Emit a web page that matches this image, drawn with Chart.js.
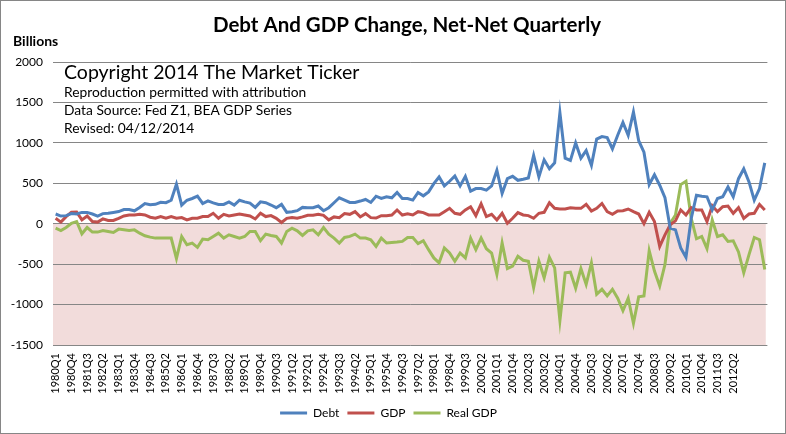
<!DOCTYPE html>
<html>
<head>
<meta charset="utf-8">
<title>Debt And GDP Change, Net-Net Quarterly</title>
<script src="https://cdn.jsdelivr.net/npm/chart.js@4.4.1/dist/chart.umd.min.js"></script>
<style>
  html, body { margin: 0; padding: 0; background: #fff; }
  #wrap { width: 786px; height: 434px; }
</style>
</head>
<body>
<div id="wrap"><canvas id="debtChart" width="786" height="434"></canvas></div>
<script>
// categories: 1980Q1 .. 2013Q4
const firstYear = 1980;
const lastYear = 2013;
const quarters = [];
for (let y = firstYear; y <= lastYear; y++) {
  for (let q = 1; q <= 4; q++) quarters.push(y + 'Q' + q);
}

// billions
const debt = [120,95,100,125,120,140,140,120,95,125,
  130,140,150,175,175,160,200,250,235,240,
  265,260,290,490,230,290,312,340,250,282,
  258,238,238,270,230,290,270,255,202,270,
  260,231,198,239,141,149,161,202,198,198,
  219,161,198,259,321,292,263,263,280,300,
  263,340,312,333,321,386,312,312,292,386,
  345,394,496,578,468,525,590,468,586,402,
  435,435,415,468,660,374,557,586,537,549,
  566,843,578,790,680,753,1374,811,782,999,
  811,905,721,1047,1078,1066,925,1094,1252,1094,
  1382,1027,884,484,606,476,321,-55,-76,-300,
  -415,67,353,341,333,170,312,333,455,333,
  557,680,517,292,435,752];

const gdp = [67,20,88,141,145,47,96,27,20,60,
  40,40,67,96,108,108,116,108,80,67,
  88,67,88,67,76,47,67,67,88,88,
  129,67,116,96,108,120,108,96,59,129,
  88,100,67,15,67,78,67,84,104,104,
  116,104,47,84,75,125,116,149,84,125,
  75,70,100,100,108,170,108,124,108,149,
  137,108,108,108,149,190,129,116,170,210,
  100,247,88,116,47,129,5,67,137,108,
  100,67,129,141,259,190,182,182,198,190,
  190,239,157,190,250,149,116,157,161,182,
  149,120,0,141,26,-280,-137,-14,35,170,
  108,198,170,170,26,222,149,210,218,129,
  198,67,120,129,239,170];

const realGdp = [-55,-84,-47,6,27,-125,-47,-104,-104,-84,
  -96,-108,-67,-76,-84,-76,-117,-149,-166,-178,
  -178,-178,-178,-430,-158,-260,-240,-292,-190,-198,
  -158,-117,-178,-137,-158,-178,-158,-96,-96,-210,
  -129,-145,-157,-239,-96,-55,-88,-145,-88,-76,
  -137,-47,-129,-178,-239,-170,-157,-129,-178,-178,
  -198,-280,-178,-239,-231,-227,-219,-170,-170,-247,
  -211,-321,-423,-484,-300,-362,-464,-362,-423,-178,
  -321,-178,-309,-362,-627,-239,-554,-525,-403,-452,
  -464,-790,-464,-668,-415,-546,-1199,-607,-599,-799,
  -554,-750,-484,-872,-811,-893,-811,-921,-1076,-921,
  -1231,-905,-893,-333,-586,-770,-505,6,108,484,
  525,67,-186,-158,-309,47,-158,-137,-219,-211,
  -349,-607,-382,-170,-198,-566];

// axis
const yMin = -1500;
const yMax = 2000;
const yStep = 500;
const tickEvery = 3;
const lastTickLabel = '2012Q2';

const chartTitle = 'Debt And GDP Change, Net-Net Quarterly';
const noteLines = [
  'Copyright 2014 The Market Ticker',
  'Reproduction permitted with attribution',
  'Data Source: Fed Z1, BEA GDP Series',
  'Revised: 04/12/2014'
];

Chart.defaults.font.family = 'Lato, "Open Sans", sans-serif';
Chart.defaults.color = '#000';

// pink band under zero, white page, frame, title and the notes
const bandPlugin = {
  id: 'negativeBand',
  beforeDraw(chart) {
    const { ctx, chartArea, scales } = chart;
    ctx.save();
    ctx.fillStyle = '#fff';
    ctx.fillRect(0, 0, chart.width, chart.height);
    const yTop = scales.y.getPixelForValue(0);
    const yBot = scales.y.getPixelForValue(yMin);
    const xRight = scales.x.getPixelForValue(quarters.length - 1) + 1;
    ctx.fillStyle = '#F2DCDB';
    ctx.fillRect(chartArea.left, yTop, xRight - chartArea.left, yBot - yTop);
    ctx.restore();
  },
  afterDraw(chart) {
    const { ctx, chartArea } = chart;
    ctx.save();
    ctx.fillStyle = '#000';
    ctx.textBaseline = 'middle';

    ctx.textAlign = 'center';
    ctx.font = 'bold 20.5px Lato';
    ctx.fillText(chartTitle, 407, 25);

    ctx.textAlign = 'left';
    ctx.font = 'bold 14px Lato';
    ctx.fillText('Billions', 13, 41);

    const x0 = chartArea.left + 11;
    ctx.font = '19.5px Lato';
    ctx.fillText(noteLines[0], x0, 73);
    ctx.font = '13.8px Lato';
    ctx.fillText(noteLines[1], x0, 93);
    ctx.fillText(noteLines[2], x0, 111);
    ctx.fillText(noteLines[3], x0, 129);

    ctx.strokeStyle = '#868686';
    ctx.lineWidth = 1;
    ctx.strokeRect(0.5, 0.5, chart.width - 1, chart.height - 1);
    ctx.restore();
  }
};

function lineSet(label, data, color) {
  return {
    label: label,
    data: data,
    borderColor: color,
    backgroundColor: color,
    borderWidth: 3,
    pointRadius: 0,
    tension: 0,
    fill: false
  };
}

new Chart(document.getElementById('debtChart'), {
  type: 'line',
  data: {
    labels: quarters,
    datasets: [
      lineSet('Debt', debt, '#4F81BD'),
      lineSet('GDP', gdp, '#C0504D'),
      lineSet('Real GDP', realGdp, '#9BBB59')
    ]
  },
  options: {
    responsive: false,
    animation: false,
    devicePixelRatio: 1,
    layout: { padding: { left: 0, right: 9, top: 62, bottom: 5 } },
    plugins: {
      title: { display: false },
      legend: {
        position: 'bottom',
        labels: {
          usePointStyle: true,
          pointStyle: 'line',
          pointStyleWidth: 27,
          font: { size: 12 },
          padding: 8
        }
      },
      tooltip: { enabled: false }
    },
    scales: {
      x: {
        offset: true,
        grid: { display: false, drawTicks: false },
        border: { display: false },
        afterFit(scale) { scale.height = 54; },
        ticks: {
          autoSkip: false,
          minRotation: 90,
          maxRotation: 90,
          padding: 8,
          font: { size: 11 },
          callback(value, index) {
            const lastIdx = quarters.indexOf(lastTickLabel);
            if (index % tickEvery === 0 && index <= lastIdx) return quarters[index];
            return '';
          }
        }
      },
      y: {
        min: yMin,
        max: yMax,
        afterFit(scale) { scale.width = 53; },
        border: { display: false },
        grid: { color: '#868686', lineWidth: 1, drawTicks: false },
        ticks: {
          stepSize: yStep,
          padding: 10,
          font: { size: 12 },
          callback(value) { return String(value); }
        }
      }
    }
  },
  plugins: [bandPlugin]
});
</script>
</body>
</html>
